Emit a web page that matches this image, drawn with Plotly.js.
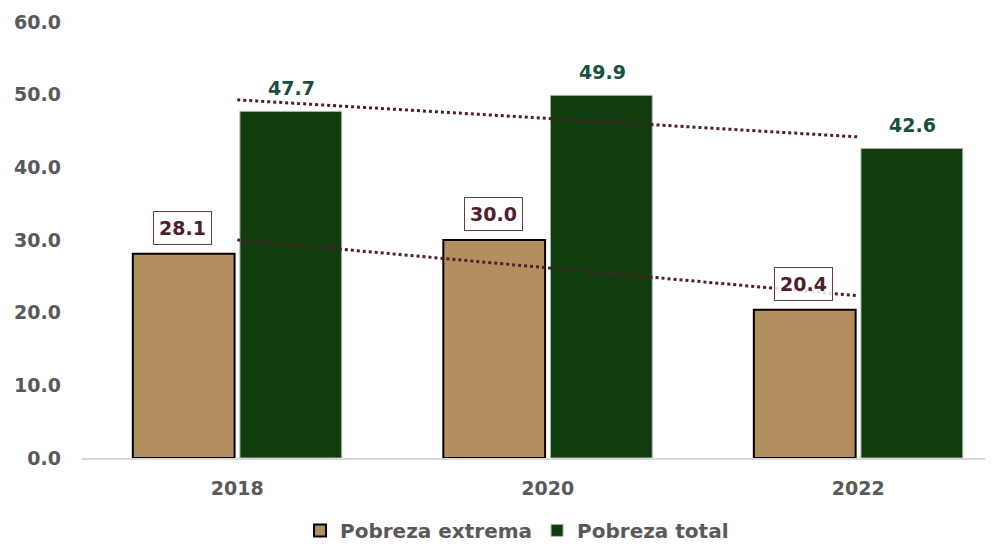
<!DOCTYPE html>
<html>
<head>
<meta charset="utf-8">
<script src="https://cdn.plot.ly/plotly-3.0.1.min.js"></script>
<style>
  html, body { margin: 0; padding: 0; background: #ffffff; }
  #chart { width: 1002px; height: 544px; }
</style>
</head>
<body>
<div id="chart"></div>
<script>
const categories = ['2018', '2020', '2022'];
const pobrezaExtrema = [28.1, 30.0, 20.4];
const pobrezaTotal = [47.7, 49.9, 42.6];
const yTicks = [0, 10, 20, 30, 40, 50, 60];

const FONT = '"DejaVu Sans", "Open Sans", sans-serif';
const GREY = '#595959';
const BROWN = '#B38F5F';
const GREEN = '#0F3D0D';
const MAROON = '#4E1E2C';
const TEAL = '#18503F';

function linearTrend(vals) {
  const n = vals.length;
  const xs = vals.map((_, i) => i);
  const mx = xs.reduce((a, b) => a + b, 0) / n;
  const my = vals.reduce((a, b) => a + b, 0) / n;
  let num = 0, den = 0;
  for (let i = 0; i < n; i++) { num += (xs[i] - mx) * (vals[i] - my); den += (xs[i] - mx) ** 2; }
  const slope = num / den;
  const intercept = my - slope * mx;
  return [intercept, intercept + slope * (n - 1)];
}

const trendExt = linearTrend(pobrezaExtrema);
const trendTot = linearTrend(pobrezaTotal);
const trendX = [categories[0], categories[categories.length - 1]];

const traces = [
  {
    type: 'bar', name: 'Pobreza extrema', x: categories, y: pobrezaExtrema,
    marker: { color: BROWN, line: { color: '#000000', width: 2 } },
    hoverinfo: 'skip'
  },
  {
    type: 'bar', name: 'Pobreza total', x: categories, y: pobrezaTotal,
    marker: { color: GREEN, line: { color: '#a9b5a6', width: 1 } },
    hoverinfo: 'skip'
  },
  {
    type: 'scatter', mode: 'lines', x: trendX, y: trendExt,
    line: { color: MAROON, width: 3, dash: 'dot' }, showlegend: false, hoverinfo: 'skip'
  },
  {
    type: 'scatter', mode: 'lines', x: trendX, y: trendTot,
    line: { color: MAROON, width: 3, dash: 'dot' }, showlegend: false, hoverinfo: 'skip'
  }
];

const OFF = 0.1755;
const annotations = [];
categories.forEach((c, i) => {
  annotations.push({
    x: i - OFF, y: pobrezaExtrema[i], xref: 'x', yref: 'y',
    text: pobrezaExtrema[i].toFixed(1), showarrow: false,
    yanchor: 'bottom', yshift: 9,
    font: { family: FONT, size: 19, color: MAROON, weight: 700 },
    bgcolor: 'rgba(255,255,255,0.85)', bordercolor: '#6b3a48', borderwidth: 1, borderpad: 5
  });
  annotations.push({
    x: i + OFF, y: pobrezaTotal[i], xref: 'x', yref: 'y',
    text: pobrezaTotal[i].toFixed(1), showarrow: false,
    yanchor: 'bottom', yshift: 10,
    font: { family: FONT, size: 19, color: TEAL, weight: 700 }
  });
});

const layout = {
  width: 1002, height: 544,
  margin: { l: 82, r: 17, t: 22, b: 86, autoexpand: false },
  paper_bgcolor: '#ffffff', plot_bgcolor: '#ffffff',
  barmode: 'group', bargap: 0.31, bargroupgap: 0.05,
  font: { family: FONT, color: GREY },
  xaxis: {
    type: 'category', range: [-0.5, 2.408],
    showline: true, linecolor: '#d9d9d9', linewidth: 2,
    showgrid: false, zeroline: false, ticks: '',
    tickfont: { family: FONT, size: 19, color: GREY, weight: 700 },
    ticklabelstandoff: 12, automargin: false
  },
  yaxis: {
    range: [0, 60], tickvals: yTicks, ticktext: yTicks.map(v => v.toFixed(1)),
    showline: false, showgrid: false, zeroline: false, ticks: '',
    tickfont: { family: FONT, size: 19, color: GREY, weight: 700 },
    ticklabelstandoff: 20, automargin: false
  },
  showlegend: true,
  legend: {
    orientation: 'h', x: 0.516, xanchor: 'center', xref: 'container',
    y: -0.166, yanchor: 'middle', yref: 'paper',
    font: { family: FONT, size: 20, color: GREY, weight: 700 },
    itemwidth: 30, traceorder: 'normal', tracegroupgap: 0
  },
  annotations: annotations
};

Plotly.newPlot('chart', traces, layout, { displayModeBar: false, staticPlot: true });
</script>
</body>
</html>
